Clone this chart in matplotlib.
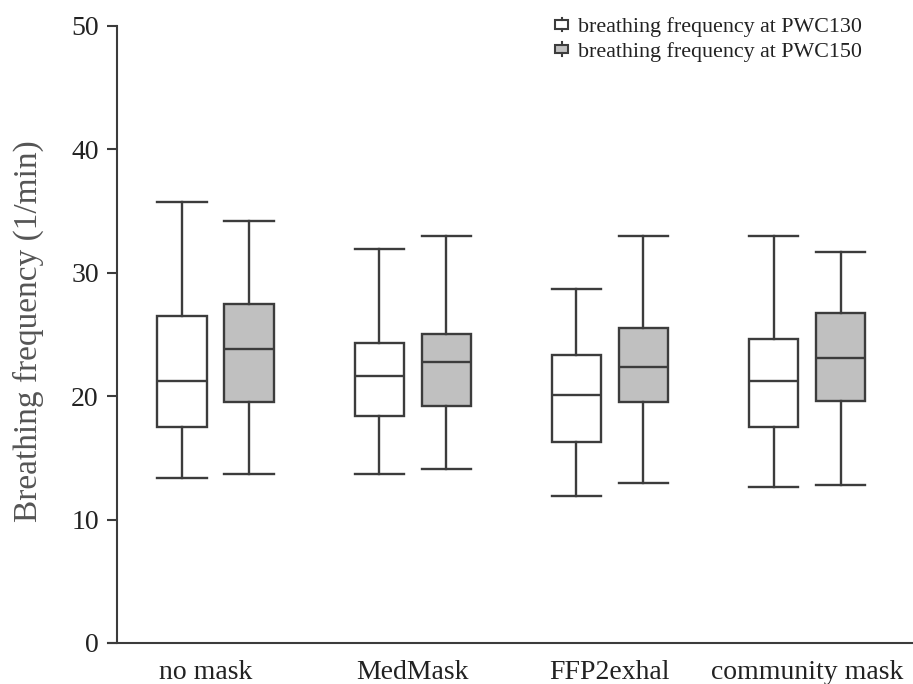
import matplotlib
matplotlib.use("Agg")
import matplotlib.pyplot as plt
from matplotlib.patches import Rectangle
from matplotlib.lines import Line2D
from matplotlib.legend_handler import HandlerBase

plt.rcParams['font.family'] = ['Liberation Serif', 'DejaVu Serif']

groups = ["no mask", "MedMask", "FFP2exhal", "community mask"]
label_pos = [-0.05, 1, 2, 3]

# five-number summaries: lower whisker, Q1, median, Q3, upper whisker
pwc130_low = [13.4, 13.7, 11.9, 12.6]
pwc130_q1 = [17.5, 18.4, 16.3, 17.5]
pwc130_med = [21.2, 21.6, 20.1, 21.2]
pwc130_q3 = [26.5, 24.3, 23.3, 24.6]
pwc130_high = [35.7, 31.9, 28.7, 33.0]

pwc150_low = [13.7, 14.1, 13.0, 12.8]
pwc150_q1 = [19.5, 19.2, 19.5, 19.6]
pwc150_med = [23.8, 22.8, 22.4, 23.1]
pwc150_q3 = [27.5, 25.0, 25.5, 26.7]
pwc150_high = [34.2, 33.0, 33.0, 31.7]

line_col = "#3c3c3c"
gray_fill = "#c0c0c0"


def make_stats(low, q1, med, q3, high):
    return [dict(whislo=a, q1=b, med=c, q3=d, whishi=e, fliers=[])
            for a, b, c, d, e in zip(low, q1, med, q3, high)]


class BoxGlyph(HandlerBase):
    # small box with a short stem sticking out above and below
    def create_artists(self, legend, orig_handle, xdescent, ydescent,
                       width, height, fontsize, trans):
        cx = -xdescent + width / 2
        cy = -ydescent + height / 2
        bw, bh, stem = width, height * 0.55, height * 0.17
        box = Rectangle((cx - bw / 2, cy - bh / 2), bw, bh,
                        facecolor=orig_handle.get_facecolor(),
                        edgecolor=line_col, linewidth=1.5, transform=trans)
        top = Line2D([cx, cx], [cy + bh / 2, cy + bh / 2 + stem],
                     color=line_col, linewidth=1.5, transform=trans)
        bot = Line2D([cx, cx], [cy - bh / 2, cy - bh / 2 - stem],
                     color=line_col, linewidth=1.5, transform=trans)
        return [box, top, bot]


fig = plt.figure(figsize=(9.13, 6.84), dpi=100)
ax = fig.add_axes([0.128, 0.060, 0.872, 0.902])

style = dict(
    boxprops=dict(color=line_col, linewidth=1.7),
    whiskerprops=dict(color=line_col, linewidth=1.7),
    capprops=dict(color=line_col, linewidth=1.7),
    medianprops=dict(color=line_col, linewidth=1.7),
)

pos = range(len(groups))
b1 = ax.bxp(make_stats(pwc130_low, pwc130_q1, pwc130_med, pwc130_q3, pwc130_high),
            positions=[p - 0.17 for p in pos], widths=0.25, capwidths=0.25,
            patch_artist=True, **style)
b2 = ax.bxp(make_stats(pwc150_low, pwc150_q1, pwc150_med, pwc150_q3, pwc150_high),
            positions=[p + 0.17 for p in pos], widths=0.25, capwidths=0.25,
            patch_artist=True, **style)
for b in b1["boxes"]:
    b.set_facecolor("white")
for b in b2["boxes"]:
    b.set_facecolor(gray_fill)

ax.set_xlim(-0.5, 3.537)
ax.set_ylim(0, 50)
ax.set_yticks([0, 10, 20, 30, 40, 50])
ax.set_xticks(label_pos)
ax.set_xticklabels(groups, fontsize=20, color="#222222")
ax.tick_params(axis='x', length=0, pad=12)
ax.tick_params(axis='y', length=7, width=1.5, color=line_col, labelsize=20,
               labelcolor="#222222", pad=6)
ax.set_ylabel("Breathing frequency (1/min)", fontsize=24, color="#555555")
ax.yaxis.set_label_coords(-0.092, 0.505)

for s in ["top", "right"]:
    ax.spines[s].set_visible(False)
for s in ["left", "bottom"]:
    ax.spines[s].set_color(line_col)
    ax.spines[s].set_linewidth(1.5)
ax.spines["bottom"].set_bounds(-0.545, 3.537)

leg_handles = [Rectangle((0, 0), 1, 1, facecolor="white"),
               Rectangle((0, 0), 1, 1, facecolor=gray_fill)]
ax.legend(leg_handles,
          ["breathing frequency at PWC130", "breathing frequency at PWC150"],
          handler_map={Rectangle: BoxGlyph()},
          loc="upper right", bbox_to_anchor=(0.961, 1.047), frameon=False,
          fontsize=15.8, handlelength=0.6, handleheight=0.7, handletextpad=0.45,
          labelspacing=0.2, labelcolor="#222222")

fig.savefig("out.png", dpi=100)
